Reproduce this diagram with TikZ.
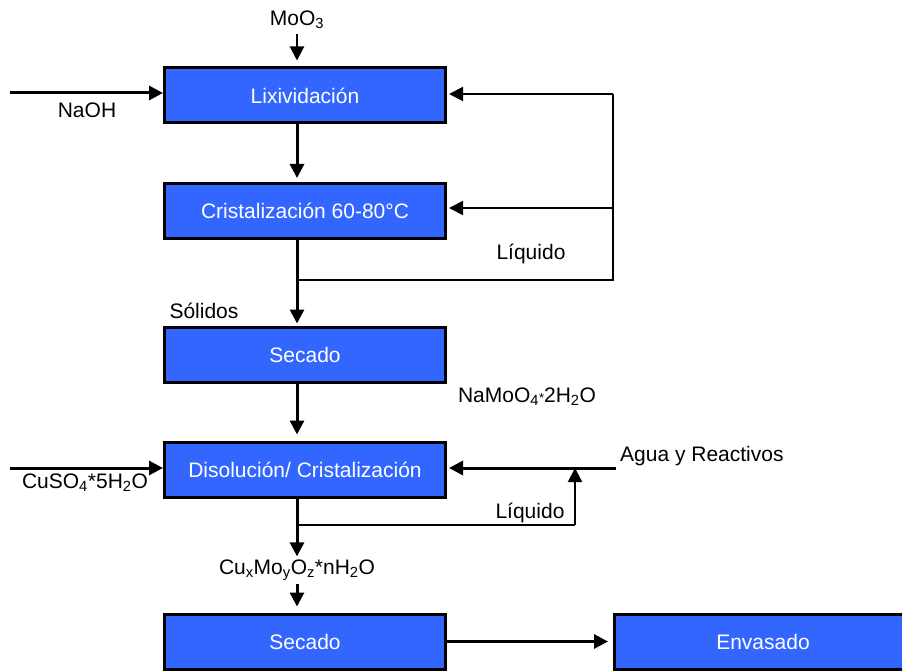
\documentclass[tikz,border=0pt]{standalone}
\usepackage{fontspec}
\setmainfont{Liberation Sans}
\usetikzlibrary{arrows.meta,positioning}
\definecolor{procblue}{HTML}{3366FF}

\begin{document}
\begin{tikzpicture}[x=1pt,y=-1pt,
  proc/.style={draw=black,line width=3pt,fill=procblue,text=white,minimum width=281pt,minimum height=55pt,inner sep=0pt,font=\fontsize{21}{25}\selectfont},
  lbl/.style={font=\fontsize{21}{25}\selectfont,inner sep=0pt},
  main/.style={line width=3pt,-{Triangle[length=14pt,width=14pt]}},
  feed/.style={line width=2pt,-{Triangle[length=14pt,width=14pt]}},
  ret/.style={line width=1.5pt}]
\useasboundingbox (0,0) rectangle (902,671);
\node[proc] (lix) at (305,95.5) {Lixividación};
\node[proc] (cri) at (305,211) {Cristalización 60-80°C};
\node[proc] (sec) at (305,354.5) {Secado};
\node[proc] (dis) at (305,469.5) {Disolución/ Cristalización};
\node[proc] (sec2) at (305,641.5) {Secado};
\node[proc,minimum width=297pt] (env) at (763,641.5) {Envasado};
\node[lbl] (moo) at (297,20) {MoO\textsubscript{3}};
\node[lbl] (naoh) at (87,110) {NaOH};
\node[lbl] (liq1) at (531,254) {Líquido};
\node[lbl] (sol) at (204,311) {Sólidos};
\node[lbl] (namo) at (527,397) {NaMoO\textsubscript{4}{\fontsize{13}{13}\selectfont*}2H\textsubscript{2}O};
\node[lbl,anchor=west] (agua) at (620,456) {Agua y Reactivos};
\node[lbl] (cuso) at (85,483) {CuSO\textsubscript{4}*5H\textsubscript{2}O};
\node[lbl] (liq2) at (530,513) {Líquido};
\node[lbl] (cumo) at (297,570) {Cu\textsubscript{x}Mo\textsubscript{y}O\textsubscript{z}*nH\textsubscript{2}O};
% free ends
\coordinate (naoh0) at (10,93);
\coordinate (cuso0) at (10,468);
\coordinate (agua0) at (616,468);
\coordinate (split1) at (297,280);
\coordinate (c1) at (613,280);
\coordinate (c1m) at (613,208);
\coordinate (c1t) at (613,94);
\coordinate (split2) at (297,525);
\coordinate (c2) at (575,525);
\coordinate (c2t) at (575,468);
% main line
\draw[feed,shorten <=5pt,shorten >=6pt] (moo.south) -- (moo.south |- lix.north);
\foreach \a/\b/\s in {lix/cri/4pt,cri/sec/2pt,sec/dis/6pt}{
  \draw[main,shorten >=\s] ([xshift=-8pt]\a.south) -- ([xshift=-8pt]\b.north);
}
\draw[main,shorten >=3pt] ([xshift=-8pt]dis.south) -- (cumo.north);
\draw[main,shorten <=3pt,shorten >=6pt] (cumo.south) -- ([xshift=-8pt]sec2.north);
\draw[main,shorten >=5pt] (sec2.east) -- (env.west);
% inputs
\draw[main] (naoh0) -- (naoh0 -| lix.west);
\draw[main] (cuso0) -- (cuso0 -| dis.west);
\draw[main,shorten >=2pt] (agua0) -- (agua0 -| dis.east);
% liquid returns
\draw[ret] (split1) -- (c1) -- (c1t);
\draw[feed,shorten >=2pt] (c1t) -- (c1t -| lix.east);
\draw[feed,shorten >=2pt] (c1m) -- (c1m -| cri.east);
\draw[ret] (split2) -- (c2);
\draw[feed] (c2) -- (c2t);
\end{tikzpicture}
\end{document}
